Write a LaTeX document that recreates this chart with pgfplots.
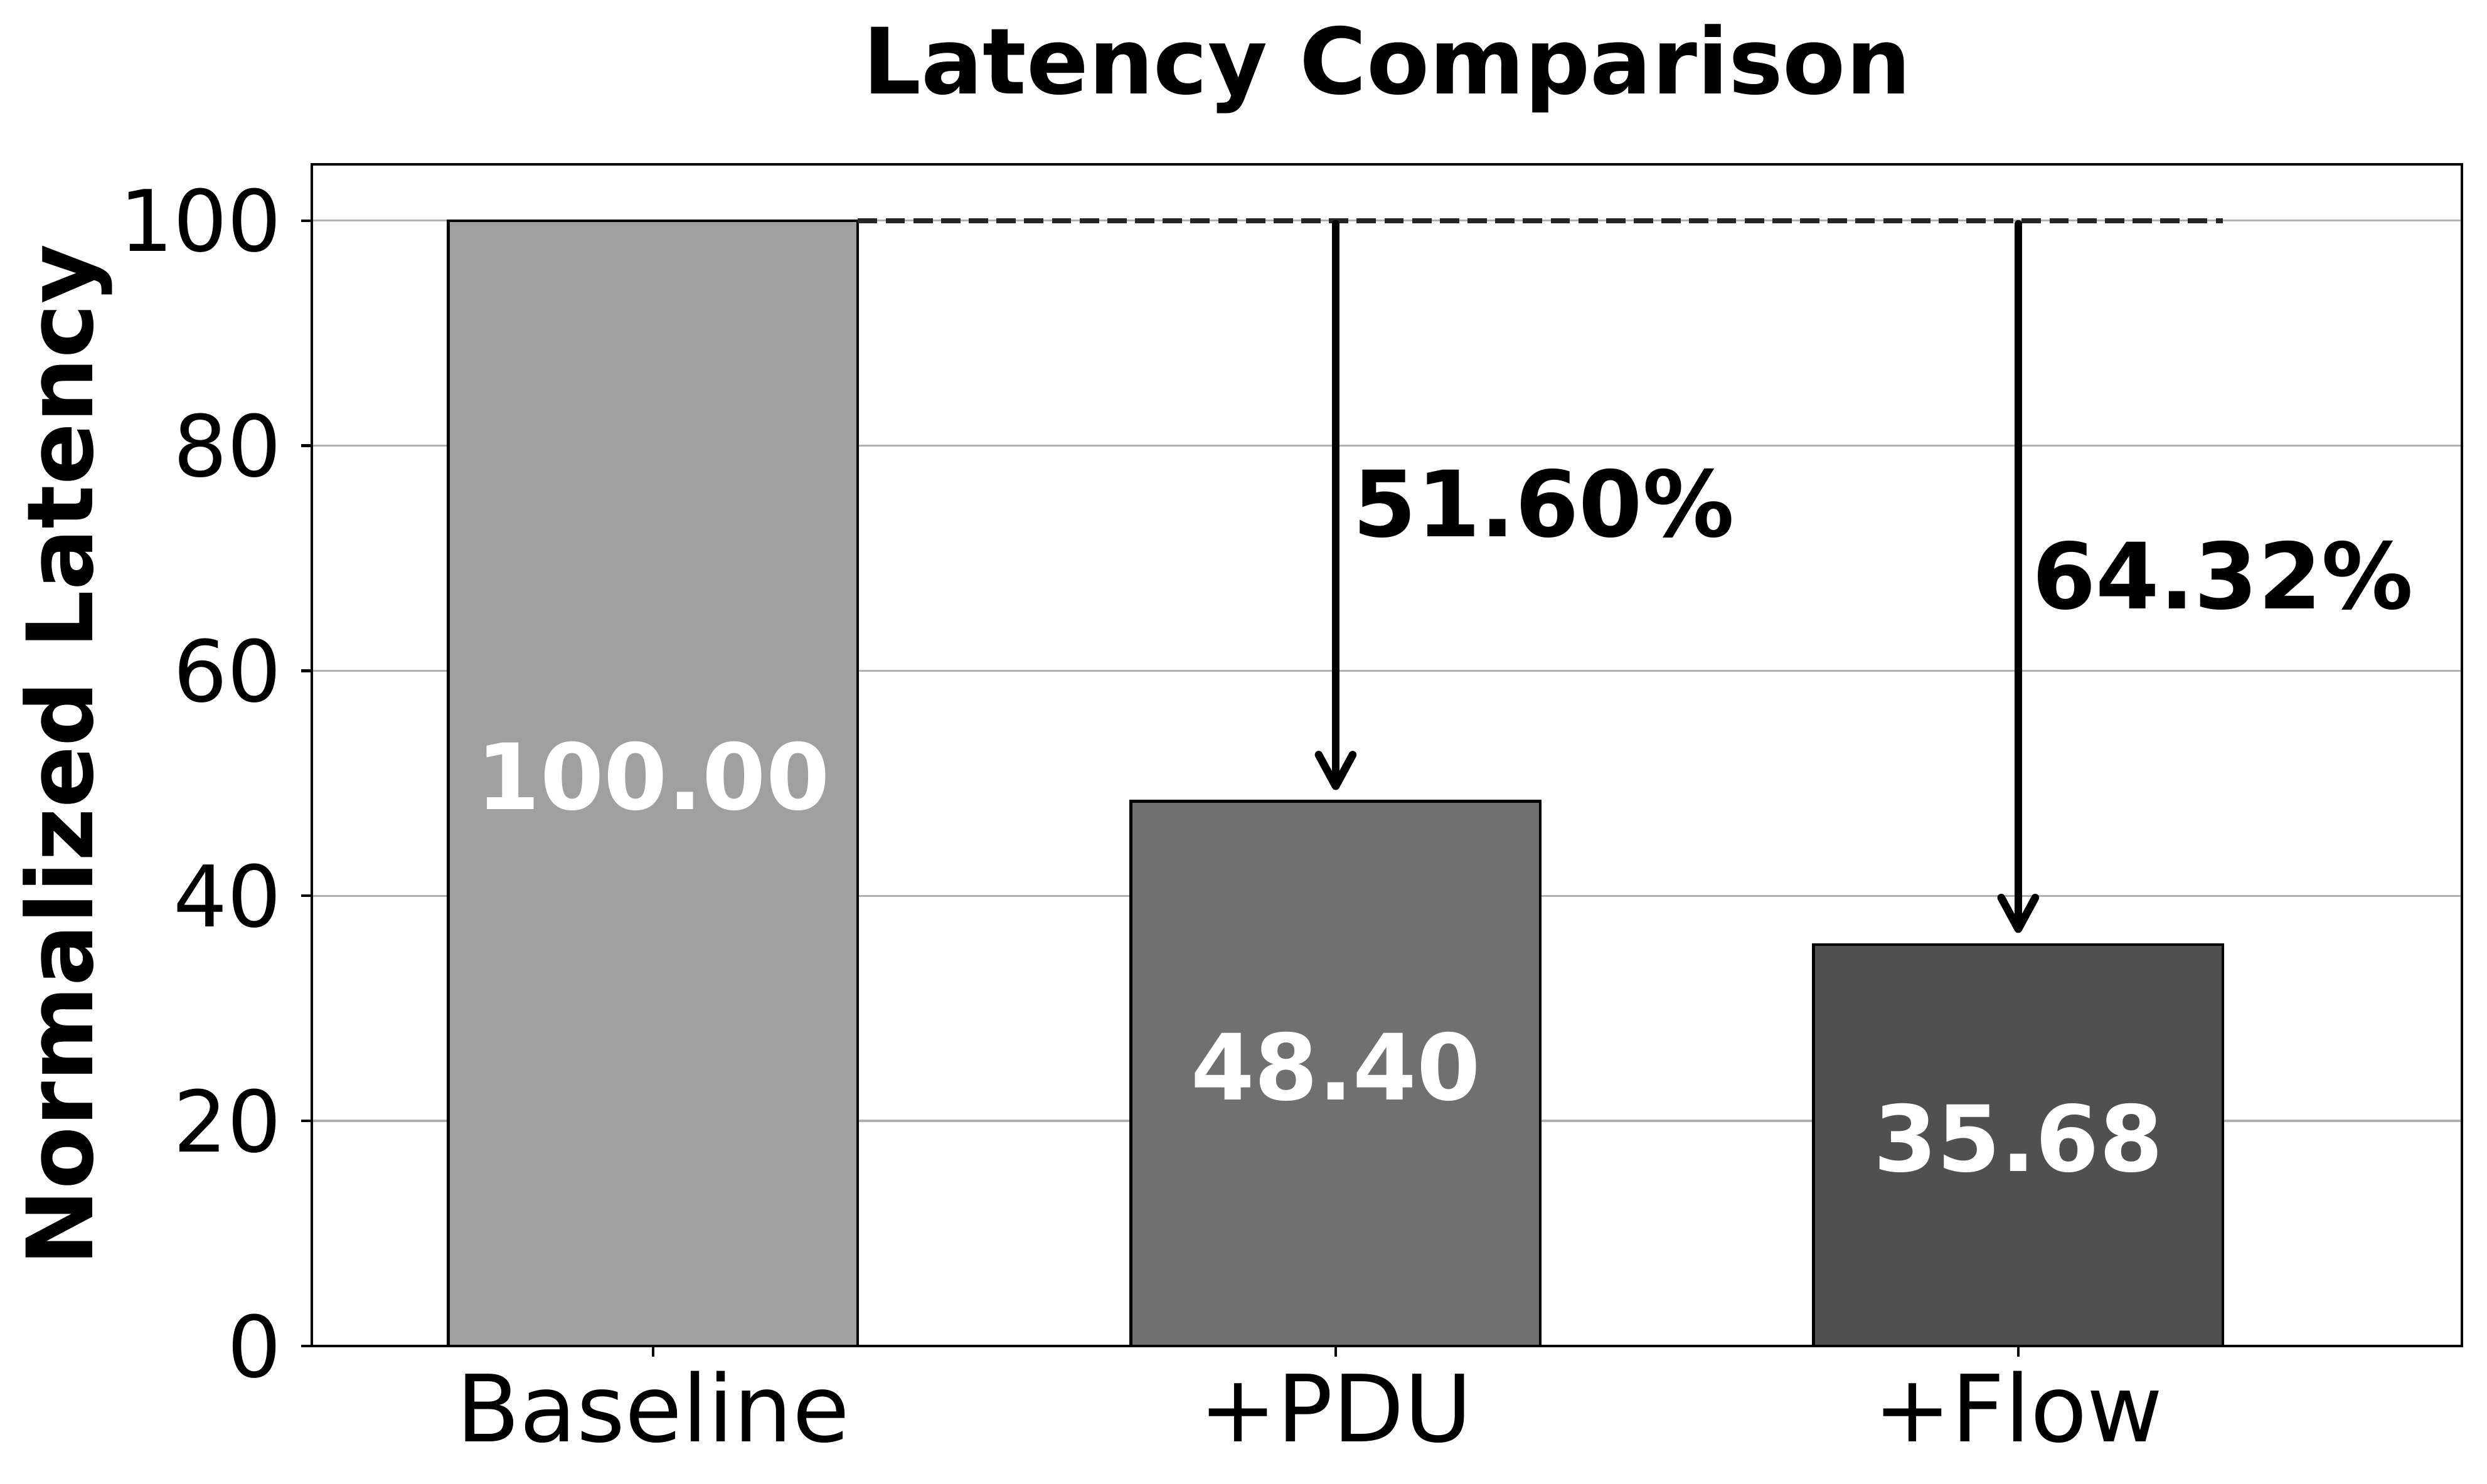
\documentclass[border=0pt]{standalone}
\usepackage{fontspec}
\setmainfont{DejaVu Sans}
\usepackage{pgfplots}
\pgfplotsset{compat=1.18}
\usetikzlibrary{arrows.meta}
\definecolor{barA}{HTML}{A0A0A0}
\definecolor{barB}{HTML}{707070}
\definecolor{barC}{HTML}{505050}
\definecolor{gridc}{HTML}{B0B0B0}
\begin{document}
\begin{tikzpicture}
\useasboundingbox (-119.28pt,-52.8pt) rectangle (832.08pt,515.04pt);
\begin{axis}[
  at={(0,0)}, anchor=south west,
  scale only axis, width=822.48pt, height=452.16pt,
  xmin=-0.5, xmax=2.65, ymin=0, ymax=105,
  xtick={0,1,2}, xticklabels={Baseline,+PDU,+Flow},
  ytick={0,20,40,60,80,100},
  axis line style={line width=1.1pt},
  tick style={line width=1pt, black},
  major tick length=4.1pt,
  tick align=outside, xtick pos=bottom, ytick pos=left,
  ymajorgrids, grid style={gridc, line width=0.8pt},
  /pgf/number format/assume math mode=true,
  yticklabel style={font=\fontsize{32.5pt}{39pt}\selectfont, anchor=east, inner sep=0pt, xshift=-7.2pt},
  xticklabel style={font=\fontsize{35.5pt}{42pt}\selectfont, anchor=base, inner sep=0pt, yshift=-32.4pt},
  title={Latency Comparison},
  every axis title/.style={at={(0.5,1)}, anchor=base, yshift=26.9pt, font=\bfseries\fontsize{35pt}{42pt}\selectfont},
  ylabel={Normalized Latency},
  every axis y label/.style={at={(axis description cs:-0.1019,0.5)}, rotate=90, anchor=base, font=\bfseries\fontsize{35pt}{42pt}\selectfont},
  clip=false,
]
\addplot[ybar, bar width=0.6, bar shift=0pt, fill=barA, draw=black, line width=1pt] coordinates {(0,100)};
\addplot[ybar, bar width=0.6, bar shift=0pt, fill=barB, draw=black, line width=1pt] coordinates {(1,48.40)};
\addplot[ybar, bar width=0.6, bar shift=0pt, fill=barC, draw=black, line width=1pt] coordinates {(2,35.68)};
\addplot[black!85, line width=2pt, dash pattern=on 7.4pt off 3.2pt] coordinates {(0.3,100) (2.3,100)};
\addplot[black, line width=3pt, line cap=round, -{Straight Barb[length=12pt,width=13pt,round]}] coordinates {(1,99.7) (1,49.4)};
\addplot[black, line width=3pt, line cap=round, -{Straight Barb[length=12pt,width=13pt,round]}] coordinates {(2,99.7) (2,36.7)};
\node[anchor=base, text=white, inner sep=0pt, font=\bfseries\fontsize{35pt}{42pt}\selectfont] at (axis cs:0,47.7) {100.00};
\node[anchor=base, text=white, inner sep=0pt, font=\bfseries\fontsize{35pt}{42pt}\selectfont] at (axis cs:1,21.9) {48.40};
\node[anchor=base, text=white, inner sep=0pt, font=\bfseries\fontsize{35pt}{42pt}\selectfont] at (axis cs:2,15.54) {35.68};
\node[anchor=base west, inner sep=0pt, font=\bfseries\fontsize{35pt}{42pt}\selectfont] at (axis cs:1.025,71.9) {51.60\%};
\node[anchor=base west, inner sep=0pt, font=\bfseries\fontsize{35pt}{42pt}\selectfont] at (axis cs:2.02,65.5) {64.32\%};
\end{axis}
\end{tikzpicture}
\end{document}
